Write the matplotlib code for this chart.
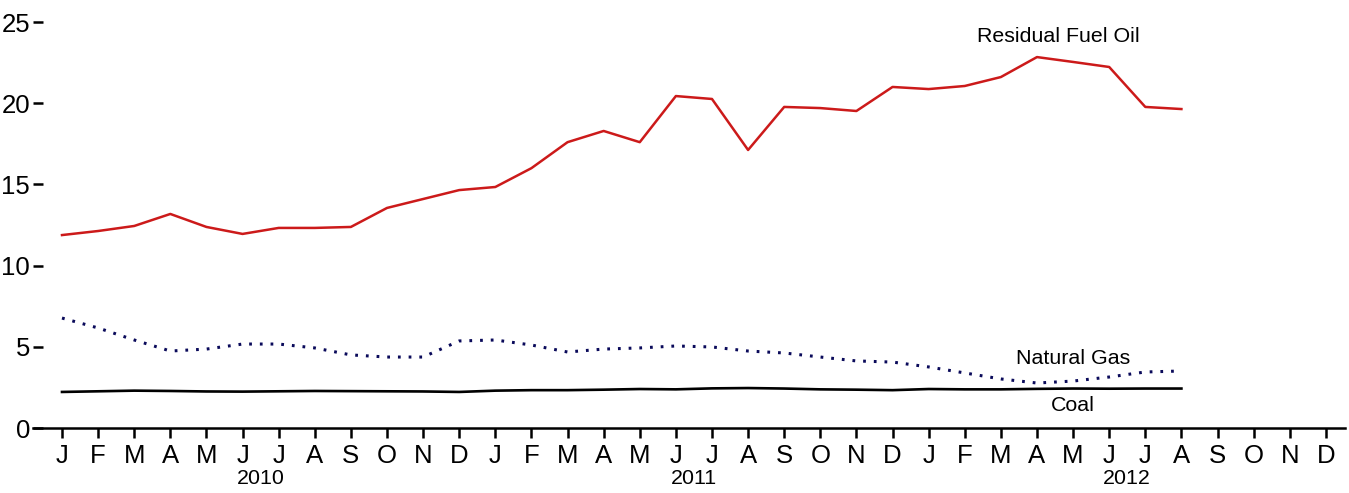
import numpy as np
import matplotlib
matplotlib.use("Agg")
import matplotlib.pyplot as plt
import matplotlib.transforms as mtransforms

# Data (monthly, Jan 2010 - Aug 2012)
months = ["J", "F", "M", "A", "M", "J", "J", "A", "S", "O", "N", "D"] * 3
years = ["2010", "2011", "2012"]

residual_fuel_oil = [11.88, 12.13, 12.44, 13.18, 12.38, 11.95, 12.32, 12.32, 12.38, 13.55, 14.10, 14.65,
                     14.84, 16.00, 17.60, 18.29, 17.60, 20.44, 20.26, 17.12, 19.77, 19.70, 19.52, 21.00,
                     20.87, 21.06, 21.61, 22.84, 22.54, 22.23, 19.77, 19.64]
natural_gas = [6.77, 6.16, 5.42, 4.74, 4.86, 5.17, 5.17, 4.93, 4.50, 4.37, 4.37, 5.36,
               5.42, 5.11, 4.68, 4.86, 4.93, 5.05, 4.99, 4.74, 4.62, 4.37, 4.13, 4.06,
               3.76, 3.39, 3.02, 2.77, 2.89, 3.14, 3.45, 3.51]
coal = [2.22, 2.26, 2.30, 2.28, 2.25, 2.24, 2.26, 2.28, 2.27, 2.26, 2.25, 2.22,
        2.30, 2.33, 2.33, 2.36, 2.40, 2.38, 2.44, 2.46, 2.43, 2.38, 2.36, 2.33,
        2.40, 2.38, 2.38, 2.41, 2.43, 2.42, 2.43, 2.43]

series_labels = ["Residual Fuel Oil", "Natural Gas", "Coal"]

plt.rcParams['font.family'] = ['Liberation Sans', 'DejaVu Sans']

fig = plt.figure(figsize=(13.49, 4.93), dpi=100)
ax = fig.add_axes([33 / 1349, 1 - 428 / 493, (1345 - 33) / 1349, (428 - 22) / 493])

x = np.arange(len(coal))

# Lines
ax.plot(x, residual_fuel_oil, color="#cc1a1a", linewidth=1.8)
ax.plot(x, natural_gas, color="#0a0a5a", linewidth=2.2, linestyle=(0, (0.9, 2.6)))
ax.plot(x, coal, color="black", linewidth=1.9)

# Series labels
ax.text(27.6, 24.1, series_labels[0], ha="center", va="center", fontsize=15.4)
ax.text(28.0, 4.25, series_labels[1], ha="center", va="center", fontsize=15.4)
ax.text(28.0, 1.4, series_labels[2], ha="center", va="center", fontsize=15.4)

# Axes
ax.set_xlim(-(62 - 33) / 36.11, (1345 - 62) / 36.11)
ax.set_ylim(0, 25)
ax.set_xticks(np.arange(36))
ax.set_xticklabels(months, fontsize=18.5)
ax.set_yticks([0, 5, 10, 15, 20, 25])
ax.set_yticklabels(["0", "5", "10", "15", "20", "25"], fontsize=18.5)

for side in ["left", "top", "right"]:
    ax.spines[side].set_visible(False)
ax.spines["bottom"].set_linewidth(1.8)

ax.tick_params(axis="x", direction="out", length=7.2, width=1.8, pad=4)
ax.tick_params(axis="y", direction="in", length=7.2, width=1.8, pad=2)

# Year labels under the months
trans = mtransforms.blended_transform_factory(ax.transData, fig.transFigure)
for i, yr in enumerate(years):
    ax.text(12 * i + 5.5, 1 - 479 / 493, yr, transform=trans, ha="center", va="center",
            fontsize=15.4)

fig.savefig("out.png", dpi=100)
